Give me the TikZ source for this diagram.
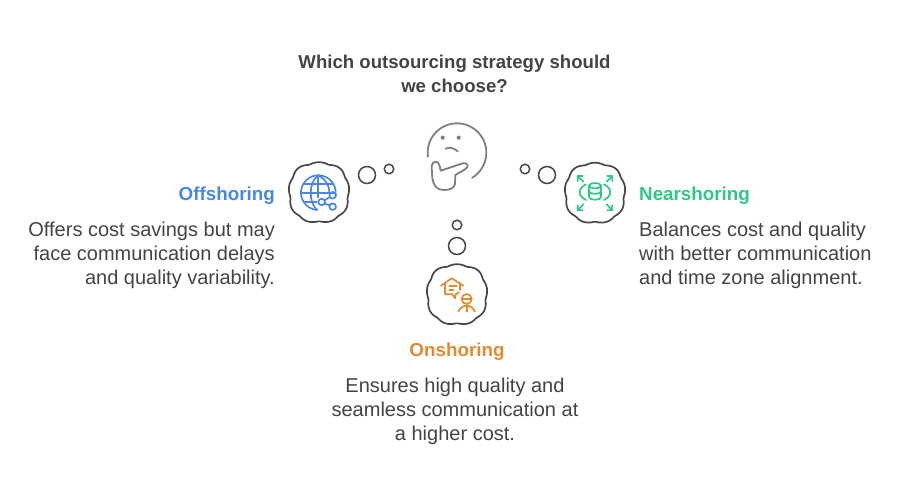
\documentclass[tikz,border=0pt]{standalone}
\usepackage{fontspec}
\setmainfont{Liberation Sans}
\definecolor{ink}{HTML}{444444}
\definecolor{cloudline}{HTML}{484848}
\definecolor{faceline}{HTML}{808080}
\definecolor{offblue}{HTML}{4A86E8}
\definecolor{neargreen}{HTML}{2FC985}
\definecolor{onorange}{HTML}{E58A2E}
\tikzset{
  cloudpath/.style={draw=cloudline,line width=1.7pt,fill=white,line join=round},
  bubble/.style={circle,draw=cloudline,line width=1.5pt,inner sep=0pt,fill=white},
  titletext/.style={font=\fontsize{18.6}{24}\selectfont\bfseries,text=ink,align=center,inner sep=0pt},
  bodytext/.style={font=\fontsize{20}{24}\selectfont,text=ink,inner sep=0pt},
  headtext/.style={font=\fontsize{18.8}{24}\selectfont\bfseries,inner sep=0pt},
  iconline/.style={line width=1.7pt,line cap=round,line join=round},
  zoomed/.style={x=0.33333pt,y=-0.33333pt},
  declare function={cloudr(\t,\p)=31*(0.95+0.055*abs(cos(4.5*\t+\p)))*(1-0.028*cos(4*\t));}
}
\begin{document}
\begin{tikzpicture}[x=1pt,y=-1pt]
\useasboundingbox (0,0) rectangle (914,494);
\fill[white] (0,0) rectangle (914,494);

\node[titletext] (question) at (454.5,74) {Which outsourcing strategy should\\we choose?};

% thinking face
\begin{scope}[shift={(410pt,-110pt)},zoomed,draw=faceline,line width=1.8pt,line cap=round,line join=round]
\draw plot[smooth,domain=188:-59,samples=40] ({141+88*cos(\x)},{128-88*sin(\x)});
\fill[faceline] (98,83) circle[radius=2.1pt] (146,83) circle[radius=2.1pt];
\draw (107,116) .. controls (120,110) and (132,114) .. (143,124);
\draw (92,182) -- (158,160) .. controls (172,156) and (180,170) .. (165,178) -- (136,195) -- (135,222) .. controls (132,236) and (118,240) .. (100,240) .. controls (80,240) and (70,225) .. (67,205) -- (65,170) .. controls (65,152) and (85,150) .. (88,165) -- cycle;
\end{scope}

% offshoring
\node[bubble,minimum size=17pt] (offbig) at (367,175) {};
\node[bubble,minimum size=9.5pt] (offsmall) at (389,169) {};
\draw[cloudpath] plot[smooth cycle,domain=0:356,samples=90] ({319+cloudr(\x,-45)*cos(\x)},{192.5-cloudr(\x,-45)*sin(\x)});
\begin{scope}[shift={(280pt,-110pt)},zoomed]
\begin{scope}[draw=offblue,iconline]
\draw plot[smooth,domain=265:-10,samples=40] ({115+52*cos(\x+0)},{248+52*sin(-\x)}) ;
\draw (115,196) .. controls (85,215) and (85,280) .. (112,300);
\draw (115,196) .. controls (140,210) and (148,230) .. (148,245);
\draw (70,222) -- (158,222);
\draw (64,250) -- (165,250);
\draw (72,275) -- (110,275);
\draw (115,196) -- (115,262);
\draw (125,276) circle[radius=3.3pt] (158,256) circle[radius=3.3pt] (158,290) circle[radius=3.3pt];
\draw (134,271) -- (149,261) (134,281) -- (149,286);
\end{scope}
\end{scope}
\node[headtext,text=offblue,anchor=base east] (offhead) at (275,201) {Offshoring};
\node[bodytext,align=right,anchor=north east] (offbody) at (275,222) {Offers cost savings but may\\face communication delays\\and quality variability.};

% nearshoring
\node[bubble,minimum size=17pt] (nearbig) at (547,175) {};
\node[bubble,minimum size=9.5pt] (nearsmall) at (525,169) {};
\draw[cloudpath] plot[smooth cycle,domain=0:356,samples=90] ({595+cloudr(\x,-45)*cos(\x)},{193-cloudr(\x,-45)*sin(\x)});
\begin{scope}[shift={(510pt,-150pt)},zoomed]
\begin{scope}[draw=neargreen,iconline]
\draw (220,95) -- (203,78) (203,93) -- (203,78) -- (218,78);
\draw (290,95) -- (307,78) (307,93) -- (307,78) -- (292,78);
\draw (220,163) -- (203,181) (203,166) -- (203,181) -- (218,181);
\draw (290,163) -- (307,181) (307,166) -- (307,181) -- (292,181);
\draw (228,103) .. controls (203,115) and (203,138) .. (228,150);
\draw (282,103) .. controls (307,115) and (307,138) .. (282,150);
\draw (255,107) ellipse[x radius=6pt,y radius=2.6pt];
\draw (237,107) -- (237,141) .. controls (237,152) and (273,152) .. (273,141) -- (273,107);
\draw (237,124) .. controls (237,134) and (273,134) .. (273,124);
\end{scope}
\end{scope}
\node[headtext,text=neargreen,anchor=base west] (nearhead) at (639,201) {Nearshoring};
\node[bodytext,align=left,anchor=north west] (nearbody) at (639,222) {Balances cost and quality\\with better communication\\and time zone alignment.};

% onshoring
\node[bubble,minimum size=17pt] (onbig) at (457,246) {};
\node[bubble,minimum size=9.5pt] (onsmall) at (457,225) {};
\draw[cloudpath] plot[smooth cycle,domain=0:356,samples=90] ({457+cloudr(\x,-45)*cos(\x)},{294.5-cloudr(\x,-45)*sin(\x)});
\begin{scope}[shift={(415pt,-215pt)},zoomed]
\begin{scope}[draw=onorange,iconline]
\draw (78,212) -- (110,190) -- (145,212);
\draw (90,205) -- (90,238) -- (112,238) -- (120,250) -- (122,238) -- (132,232) (135,225) -- (135,205);
\draw (103,212) -- (125,212) (103,225) -- (115,225);
\draw (155,252) circle[radius=5pt];
\draw (141,252) -- (169,252);
\draw (130,290) .. controls (135,278) and (145,272) .. (155,272) .. controls (165,272) and (175,278) .. (180,290);
\draw (155,272) -- (155,290);
\end{scope}
\end{scope}
\node[headtext,text=onorange,anchor=base] (onhead) at (457,357) {Onshoring};
\node[bodytext,align=center,anchor=north] (onbody) at (455,378) {Ensures high quality and\\seamless communication at\\a higher cost.};
\end{tikzpicture}
\end{document}
